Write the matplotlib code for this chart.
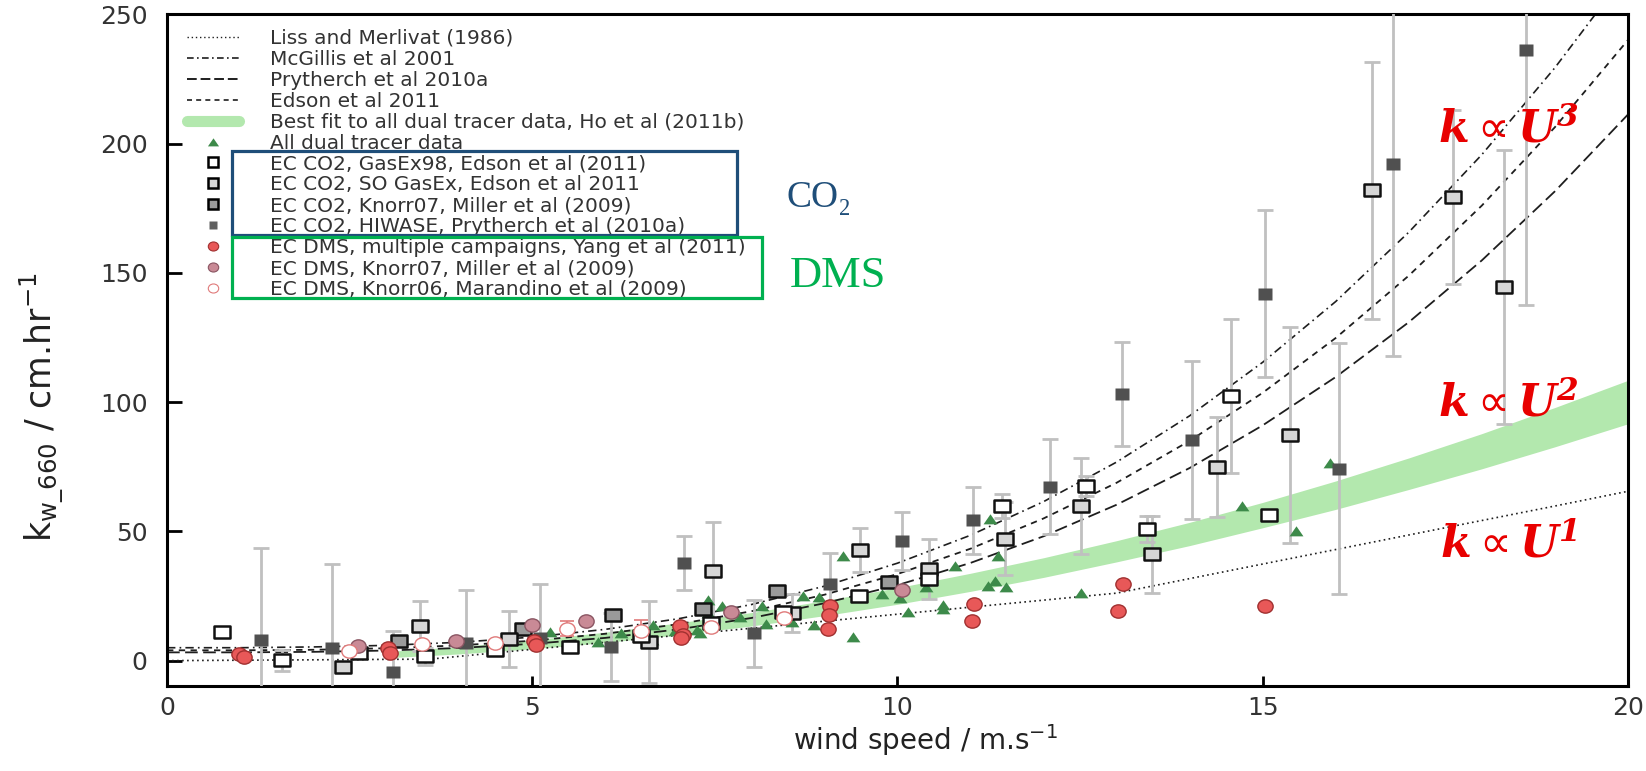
import numpy as np
import matplotlib
matplotlib.use('Agg')
import matplotlib.pyplot as plt
from matplotlib.lines import Line2D
from matplotlib.patches import Rectangle
from matplotlib.path import Path
from matplotlib.transforms import Affine2D

plt.rcParams['font.family'] = ['DejaVu Sans']
plt.rcParams['mathtext.fontset'] = 'dejavusans'
# bold-italic serif letters with a sans proportional sign, only for the k ~ U^n labels
plt.rcParams['mathtext.rm'] = 'DejaVu Sans'
plt.rcParams['mathtext.it'] = 'DejaVu Serif:italic'
plt.rcParams['mathtext.bf'] = 'DejaVu Serif:italic:bold'

# parameterisations, k660 (cm/hr) against wind speed (m/s)
u_liss = [0, 1, 2, 3, 3.6, 4, 5, 6, 7, 8, 9, 10, 11, 12, 13, 14, 15, 16, 17, 18, 19, 20]
k_liss = [0, 0.16, 0.32, 0.49, 0.58, 1.67, 4.38, 7.1, 9.82, 12.53, 15.25, 17.96, 20.68,
          23.4, 26.11, 31.73, 37.36, 42.98, 48.6, 54.2, 59.8, 65.5]
u_curve = list(range(21))
k_mcgillis = [5.0, 5.0, 5.3, 5.9, 7.1, 9.1, 12.1, 16.2, 21.7, 28.8, 37.7, 48.5, 61.5, 76.8,
              94.7, 115.4, 138.9, 165.7, 195.7, 229.3, 266.6]
k_edson = [4.0, 4.0, 4.2, 4.8, 5.9, 7.7, 10.4, 14.1, 19.1, 25.5, 33.5, 43.3, 55.0, 68.8,
           85.0, 103.6, 124.8, 148.9, 176.0, 206.3, 240.0]
k_prytherch = [3.2, 3.2, 3.4, 3.9, 4.9, 6.5, 8.8, 12.1, 16.5, 22.2, 29.2, 37.8, 48.1, 60.3,
               74.5, 91.0, 109.7, 130.9, 154.8, 181.5, 211.2]

# Ho et al best-fit band
band_u = [3, 4, 5, 6, 7, 8, 9, 10, 11, 12, 13, 14, 15, 16, 17, 18, 19, 20]
band_lo = [1.1, 2.6, 4.6, 7.0, 10.0, 13.4, 17.4, 21.8, 26.8, 32.2, 38.2, 44.5, 51.4, 58.5,
           66.2, 74.2, 82.7, 91.6]
band_hi = [3.5, 5.4, 8.0, 11.0, 14.6, 18.6, 23.2, 28.2, 33.8, 39.8, 46.4, 53.5, 61.2, 69.5,
           78.4, 87.8, 97.9, 108.4]

# dual tracer data
dual_u = [5.24, 5.90, 6.21, 6.65, 6.64, 6.95, 7.25, 7.29, 7.41, 7.60, 7.41, 7.85, 8.14, 8.20,
          8.55, 8.70, 8.93, 8.86, 9.25, 9.39, 9.79, 10.03, 10.14, 10.39, 10.62, 10.62, 10.79,
          11.24, 11.27, 11.33, 11.37, 11.49, 12.51, 14.72, 15.46, 15.92]
dual_k = [11.0, 7.1, 10.5, 13.6, 7.8, 11.5, 12.0, 10.7, 23.3, 21.3, 18.6, 16.8, 21.0, 14.3,
          15.0, 24.9, 24.7, 13.6, 40.4, 9.2, 25.6, 24.3, 18.7, 28.6, 21.7, 19.8, 36.6,
          28.8, 54.7, 30.7, 40.4, 28.6, 26.2, 59.8, 50.1, 76.6]

# eddy covariance CO2
gasex98_u = [0.75, 1.58, 2.63, 3.53, 4.49, 5.51, 6.49, 7.45, 8.43, 9.47, 10.43, 11.43, 12.58,
             13.41, 14.56, 15.09]
gasex98_k = [11.0, 0.1, 3.0, 1.7, 4.3, 5.2, 9.4, 14.6, 18.7, 24.9, 31.4, 59.8, 67.6, 50.8,
             102.2, 56.2]
gasex98_err = [0, 4.0, 0, 3.3, 0, 0, 0, 0, 0, 0, 0, 4.5, 4.0, 5.0, 29.8, 0]

sogasex_u = [2.41, 3.46, 4.68, 6.60, 7.48, 8.55, 9.48, 10.43, 11.47, 12.51, 13.49, 14.37,
             15.38, 16.49, 17.60, 18.30]
sogasex_k = [-2.5, 13.3, 8.4, 7.2, 34.5, 18.5, 42.8, 35.5, 47.2, 59.8, 41.1, 74.9, 87.3,
             181.9, 179.3, 144.5]
sogasex_err = [0, 9.6, 10.7, 16.0, 19.0, 7.4, 8.5, 11.6, 14.0, 18.4, 14.9, 19.4, 41.8,
               49.7, 33.8, 53.0]

knorr07c_u = [3.18, 4.87, 6.10, 7.34, 8.35, 9.88]
knorr07c_k = [7.5, 12.3, 17.6, 19.8, 27.1, 30.3]

hiwase_u = [1.29, 2.26, 3.09, 4.09, 5.11, 6.08, 7.08, 8.03, 9.08, 10.06, 11.03, 12.09, 13.07,
            14.03, 15.03, 16.04, 16.79, 18.61]
hiwase_k = [8.1, 5.0, -4.4, 6.9, 8.8, 5.3, 37.7, 10.5, 29.8, 46.2, 54.3, 67.3, 103.1, 85.3,
            141.9, 74.3, 192.2, 236.2]
hiwase_err = [35.6, 32.5, 15.8, 20.6, 20.7, 13.1, 10.4, 12.8, 12.0, 11.3, 13.0, 18.4, 20.2,
              30.7, 32.3, 48.4, 74.5, 98.8]

# eddy covariance DMS
yang_u = [0.98, 1.05, 3.03, 3.05, 5.03, 5.05, 7.02, 7.06, 7.03, 9.07, 9.06, 9.05, 11.05,
          11.02, 13.09, 13.02, 15.03]
yang_k = [2.6, 1.4, 4.9, 3.0, 7.5, 6.2, 13.3, 10.1, 8.8, 21.3, 17.6, 12.3, 22.0, 15.2, 29.5,
          19.1, 21.0]

knorr07d_u = [2.61, 3.95, 4.99, 5.74, 7.72, 10.06]
knorr07d_k = [5.5, 7.5, 13.6, 15.2, 18.9, 27.2]

knorr06_u = [2.49, 3.49, 4.49, 5.48, 6.49, 7.45, 8.45]
knorr06_k = [3.6, 6.5, 6.9, 12.3, 11.4, 12.9, 16.5]
knorr06_err = [0, 0, 0, 2.9, 4.2, 0, 0]

labels = ['Liss and Merlivat (1986)', 'McGillis et al 2001', 'Prytherch et al 2010a',
          'Edson et al 2011', 'Best fit to all dual tracer data, Ho et al (2011b)',
          'All dual tracer data', 'EC CO2, GasEx98, Edson et al (2011)',
          'EC CO2, SO GasEx, Edson et al 2011', 'EC CO2, Knorr07, Miller et al (2009)',
          'EC CO2, HIWASE, Prytherch et al (2010a)',
          'EC DMS, multiple campaigns, Yang et al (2011)',
          'EC DMS, Knorr07, Miller et al (2009)', 'EC DMS, Knorr06, Marandino et al (2009)']

# slightly wide marker shapes
rect = Path([(-1.25, -1), (1.25, -1), (1.25, 1), (-1.25, 1), (-1.25, -1)], closed=True)
oval = Path.unit_circle().transformed(Affine2D().scale(1.15, 1.0))
tri = Path([(-1.0, -0.7), (1.0, -0.7), (0, 0.75), (-1.0, -0.7)], closed=True)

line_col = '#1e1e1e'
band_col = '#b3e8ae'
err_col = '#c0c0c0'
tri_col = '#3d8a4a'

fig = plt.figure(figsize=(16.46, 7.71), dpi=100)
ax = fig.add_axes([0.1015, 0.1096, 0.8875, 0.8719])

ax.fill_between(band_u, band_lo, band_hi, color=band_col, lw=0, zorder=1)
ax.plot(u_liss, k_liss, color=line_col, lw=1.2, ls=(0, (1, 2)), zorder=2)
ax.plot(u_curve, k_mcgillis, color=line_col, lw=1.2, ls=(0, (5, 2.5, 1, 2.5)), zorder=2)
ax.plot(u_curve, k_edson, color=line_col, lw=1.3, ls=(0, (3.5, 3)), zorder=2)
ax.plot(u_curve, k_prytherch, color=line_col, lw=1.3, ls=(0, (7, 3)), zorder=2)


def bars(u, k, err, col, lw=2.0, cap=5.5):
    u, k, err = np.array(u), np.array(k), np.array(err)
    m = err > 0
    ax.errorbar(u[m], k[m], yerr=err[m], fmt='none', ecolor=col, elinewidth=lw,
                capsize=cap, capthick=lw, zorder=3)


bars(hiwase_u, hiwase_k, hiwase_err, err_col)
bars(sogasex_u, sogasex_k, sogasex_err, err_col)
bars(gasex98_u, gasex98_k, gasex98_err, err_col)
bars(knorr06_u, knorr06_k, knorr06_err, '#e07a7a', lw=1.2, cap=5)

ax.plot(dual_u, dual_k, ls='none', marker=tri, ms=10, mfc=tri_col, mec='none', zorder=4)
ax.plot(hiwase_u, hiwase_k, ls='none', marker=rect, ms=10, mfc='#505050', mec='none', zorder=5)
ax.plot(knorr07c_u, knorr07c_k, ls='none', marker=rect, ms=11, mfc='#9a9a9a', mec='#111111',
        mew=1.8, zorder=5)
ax.plot(sogasex_u, sogasex_k, ls='none', marker=rect, ms=11, mfc='#d6d6d6', mec='#111111',
        mew=1.8, zorder=5)
ax.plot(gasex98_u, gasex98_k, ls='none', marker=rect, ms=11, mfc='white', mec='#111111',
        mew=1.8, zorder=5)
ax.plot(knorr07d_u, knorr07d_k, ls='none', marker=oval, ms=11, mfc='#c98a96', mec='#8a5562',
        mew=1.0, zorder=6)
ax.plot(knorr06_u, knorr06_k, ls='none', marker=oval, ms=11, mfc='white', mec='#e07a7a',
        mew=1.0, zorder=6)
ax.plot(yang_u, yang_k, ls='none', marker=oval, ms=11, mfc='#e85858', mec='#a03030',
        mew=1.0, zorder=6)

ax.set_xlim(0, 20)
ax.set_ylim(-10, 250)
ax.set_xticks([0, 5, 10, 15, 20])
ax.set_yticks([0, 50, 100, 150, 200, 250])
for s in ax.spines.values():
    s.set_linewidth(2.2)
ax.tick_params(axis='y', direction='in', length=10.8, width=2, labelsize=18, pad=14,
               labelcolor='#333333')
ax.tick_params(axis='x', direction='in', length=7, width=2, labelsize=18, pad=7,
               labelcolor='#333333')

ax.set_xlabel('wind speed / m.s$^{-1}$', fontsize=20, color='#222222')
ax.xaxis.set_label_coords(0.519, -0.08)
ax.xaxis.label.set_va('center')
ax.set_ylabel(r'k$_{\mathregular{w\_660}}$ / cm.hr$^{-1}$', fontsize=25, color='#222222')
ax.yaxis.set_label_coords(-0.0856, 0.415)
ax.yaxis.label.set_va('center')

handles = [
    Line2D([], [], color=line_col, lw=1.0, ls=(0, (1, 2))),
    Line2D([], [], color=line_col, lw=1.2, ls=(0, (4, 2, 1, 2))),
    Line2D([], [], color=line_col, lw=1.4, ls=(0, (5, 2))),
    Line2D([], [], color=line_col, lw=1.2, ls=(0, (3, 2.5))),
    Line2D([], [], color=band_col, lw=8, solid_capstyle='round'),
    Line2D([], [], ls='none', marker=tri, ms=8, mfc=tri_col, mec='none'),
    Line2D([], [], ls='none', marker='s', ms=6.5, mfc='white', mec='black', mew=1.8),
    Line2D([], [], ls='none', marker='s', ms=6.5, mfc='#d6d6d6', mec='black', mew=1.8),
    Line2D([], [], ls='none', marker='s', ms=6.5, mfc='#9a9a9a', mec='black', mew=1.8),
    Line2D([], [], ls='none', marker='s', ms=6, mfc='#606060', mec='none'),
    Line2D([], [], ls='none', marker=oval, ms=7.5, mfc='#e85858', mec='#a03030', mew=0.8),
    Line2D([], [], ls='none', marker=oval, ms=7.5, mfc='#c98a96', mec='#8a5562', mew=0.8),
    Line2D([], [], ls='none', marker=oval, ms=7.5, mfc='white', mec='#e07a7a', mew=0.8),
]
ax.legend(handles, labels, loc='upper left', bbox_to_anchor=(187 / 1646, 1 - 29 / 771),
          bbox_transform=fig.transFigure, frameon=False, fontsize=14.5, handlelength=2.6,
          handletextpad=1.5, labelspacing=0.095, borderpad=0, borderaxespad=0,
          labelcolor='#333333')

# group boxes around the CO2 and DMS entries
fig.patches.append(Rectangle((232 / 1646, 1 - 235 / 771), 505 / 1646, 84 / 771,
                             transform=fig.transFigure, fill=False, ec='#1f4e79', lw=2.3,
                             zorder=10))
fig.patches.append(Rectangle((232 / 1646, 1 - 298 / 771), 530 / 1646, 61 / 771,
                             transform=fig.transFigure, fill=False, ec='#00b050', lw=2.3,
                             zorder=10))
fig.text(787 / 1646, 1 - 198 / 771, 'CO₂', color='#1f4e79', fontsize=27,
         family=['Liberation Serif', 'DejaVu Serif'], ha='left', va='center')
fig.text(790 / 1646, 1 - 276 / 771, 'DMS', color='#00b050', fontsize=32,
         family=['Liberation Serif', 'DejaVu Serif'], ha='left', va='center')

red_font = dict(color='#e80000', fontsize=32, math_fontfamily='custom',
                ha='center', va='center')
ax.text(18.37, 205.4, r'$\mathbf{k} \propto \mathbf{U}^{\mathbf{3}}$', **red_font)
ax.text(18.37, 99.4, r'$\mathbf{k} \propto \mathbf{U}^{\mathbf{2}}$', **red_font)
ax.text(18.37, 45.0, r'$\mathbf{k} \propto \mathbf{U}^{\mathbf{1}}$', **red_font)

fig.savefig('out.png', dpi=100)
